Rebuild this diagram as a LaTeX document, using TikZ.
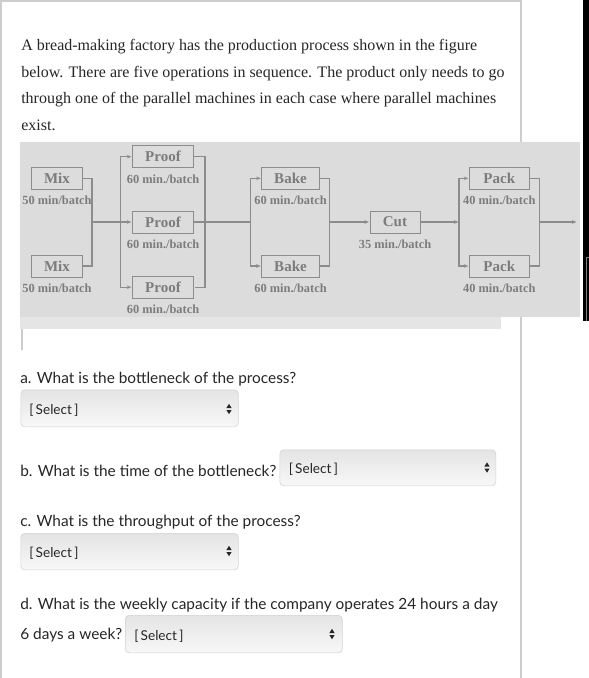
\documentclass[tikz,border=0pt]{standalone}
\usepackage{fontspec}
\setmainfont{Liberation Serif}
\newfontfamily\latofont{Lato}
\usetikzlibrary{arrows.meta, positioning}

\definecolor{diagbg}{HTML}{DCDCDC}
\definecolor{stripbg}{HTML}{E5E5E5}
\definecolor{wirecol}{HTML}{8C8C8C}
\definecolor{ink}{HTML}{7C7C7C}
\definecolor{panelline}{HTML}{CDCDCD}
\definecolor{qtext}{HTML}{262626}
\definecolor{selline}{HTML}{D2D2D2}
\definecolor{seltop}{HTML}{E4E4E4}
\definecolor{selbot}{HTML}{F8F8F8}

% two small triangles of a drop-down box
\newcommand{\spinner}[2]{%
  \fill[qtext] (#1-2.6,#2-1) -- (#1+2.6,#2-1) -- (#1,#2-5.2) -- cycle;
  \fill[qtext] (#1-2.6,#2+1) -- (#1+2.6,#2+1) -- (#1,#2+5.2) -- cycle;}

\begin{document}
\begin{tikzpicture}[
    x = 1pt,
    y = -1pt,
    semithick,
    >={Stealth[length=4.5pt,width=3.6pt]},
    ]

    \tikzstyle{machine}=[
    draw = wirecol,
    line width = 1pt,
    minimum height = 22pt,
    inner sep = 0pt,
    text = ink,
    font = \fontsize{15}{15}\selectfont\bfseries,
    ]
    \tikzstyle{rate}=[text=ink, inner sep=0pt, font=\fontsize{12.4}{12.4}\selectfont\bfseries]
    \tikzstyle{link}=[draw=wirecol, line width=1.1pt, shorten >=0.5pt]
    \tikzstyle{intro}=[anchor=base west, inner sep=0pt, text=qtext, font=\fontsize{16}{19}\selectfont]
    \tikzstyle{question}=[anchor=base west, inner sep=0pt, text=qtext, font=\latofont\fontsize{15.4}{18}\selectfont]
    \tikzstyle{selbox}=[draw=selline, rounded corners=4pt, top color=seltop, bottom color=selbot, anchor=north west, inner sep=0pt]
    \tikzstyle{seltext}=[anchor=base west, inner sep=0pt, text=qtext, font=\latofont\fontsize{13.6}{16}\selectfont]

    \useasboundingbox[fill=white] (0,0) rectangle (589,678);

    % page frame
    \draw[panelline, line width=1.5pt] (0.75,678) -- (0.75,0.75) -- (521,0.75) -- (521,678);
    \fill[black] (583,0) rectangle (589,321);
    \draw[gray, line width=0.8pt] (586.5,321) -- (586.5,257.5) -- (589,257.5);

    \node[intro] (line1) at (21,50.5) {A bread-making factory has the production process shown in the figure};
    \node[intro] (line2) at (21,77) {below. There are five operations in sequence. The product only needs to go};
    \node[intro] (line3) at (21,103.5) {through one of the parallel machines in each case where parallel machines};
    \node[intro] (line4) at (21,130) {exist.};

    % figure
    \fill[diagbg] (20,142) rectangle (580,317);
    \fill[stripbg] (20,317) rectangle (501,329);
    \draw[panelline, line width=2pt] (21.5,329) -- (21.5,350);

    \node[machine, minimum width=50.6pt] (mixA) at (57,178.3) {Mix};
    \node[machine, minimum width=50.6pt] (mixB) at (57,266) {Mix};
    \node[machine, minimum width=61.4pt] (proofA) at (163,156.7) {Proof};
    \node[machine, minimum width=61.4pt] (proofB) at (163,222) {Proof};
    \node[machine, minimum width=61.4pt] (proofC) at (163,287.2) {Proof};
    \node[machine, minimum width=57.6pt] (bakeA) at (290.5,178.3) {Bake};
    \node[machine, minimum width=57.6pt] (bakeB) at (290.5,266) {Bake};
    \node[machine, minimum width=50pt] (cut) at (395,222) {Cut};
    \node[machine, minimum width=60pt] (packA) at (499.3,178.3) {Pack};
    \node[machine, minimum width=60pt] (packB) at (499.3,266) {Pack};

    \node[rate, below=6pt of mixA] (mixArate) {50 min/batch};
    \node[rate, below=6pt of mixB] (mixBrate) {50 min/batch};
    \node[rate, below=6pt of proofA] (proofArate) {60 min./batch};
    \node[rate, below=6pt of proofB] (proofBrate) {60 min./batch};
    \node[rate, below=6pt of proofC] (proofCrate) {60 min./batch};
    \node[rate, below=6pt of bakeA] (bakeArate) {60 min./batch};
    \node[rate, below=6pt of bakeB] (bakeBrate) {60 min./batch};
    \node[rate, below=6pt of cut] (cutrate) {35 min./batch};
    \node[rate, below=6pt of packA] (packArate) {40 min./batch};
    \node[rate, below=6pt of packB] (packBrate) {40 min./batch};

    \coordinate (mixJoin) at (92,222);
    \coordinate (proofSplit) at (120.7,222);
    \coordinate (proofJoin) at (205,222);
    \coordinate (bakeSplit) at (250.7,222);
    \coordinate (bakeJoin) at (329.3,222);
    \coordinate (packSplit) at (459,222);
    \coordinate (packJoin) at (539.3,222);
    \coordinate (exit) at (577,222);

    \path[link] (mixA.east) -| (mixJoin) |- (mixB.east);
    \path[link, ->] (mixJoin) -- (proofB.west);
    \path[link, ->] (proofSplit) |- (proofA.west);
    \path[link, ->] (proofSplit) |- (proofC.west);
    \path[link] (proofA.east) -| (proofJoin) |- (proofC.east);
    \path[link] (proofB.east) -- (bakeSplit);
    \path[link, ->] (bakeSplit) |- (bakeA.west);
    \path[link, ->] (bakeSplit) |- (bakeB.west);
    \path[link] (bakeA.east) -| (bakeJoin) |- (bakeB.east);
    \path[link, ->] (bakeJoin) -- (cut.west);
    \path[link, ->] (cut.east) -- (packSplit);
    \path[link, ->] (packSplit) |- (packA.west);
    \path[link, ->] (packSplit) |- (packB.west);
    \path[link] (packA.east) -| (packJoin) |- (packB.east);
    \path[link, ->] (packJoin) -- (exit);

    % questions
    \node[question] (qa) at (20,383) {a. What is the bottleneck of the process?};
    \node[selbox, minimum width=217.5pt, minimum height=37pt] (selA) at (20.5,389.5) {};
    \node[seltext] (selAtext) at (29,414) {[\,Select\,]};
    \spinner{229}{409}

    \node[question] (qb) at (20,476) {b. What is the time of the bottleneck?};
    \node[selbox, minimum width=216pt, minimum height=36pt] (selB) at (279.5,449.5) {};
    \node[seltext] (selBtext) at (288.5,473) {[\,Select\,]};
    \spinner{487}{467.5}

    \node[question] (qc) at (20,526) {c. What is the throughput of the process?};
    \node[selbox, minimum width=217.5pt, minimum height=36.5pt] (selC) at (20.5,533) {};
    \node[seltext] (selCtext) at (29,557) {[\,Select\,]};
    \spinner{229}{551}

    \node[question] (qd) at (20,609) {d. What is the weekly capacity if the company operates 24 hours a day};
    \node[question] (qd2) at (20,639) {6 days a week?};
    \node[selbox, minimum width=217pt, minimum height=37.5pt] (selD) at (125,615) {};
    \node[seltext] (selDtext) at (134,640) {[\,Select\,]};
    \spinner{332}{634}
  \end{tikzpicture}
\end{document}
